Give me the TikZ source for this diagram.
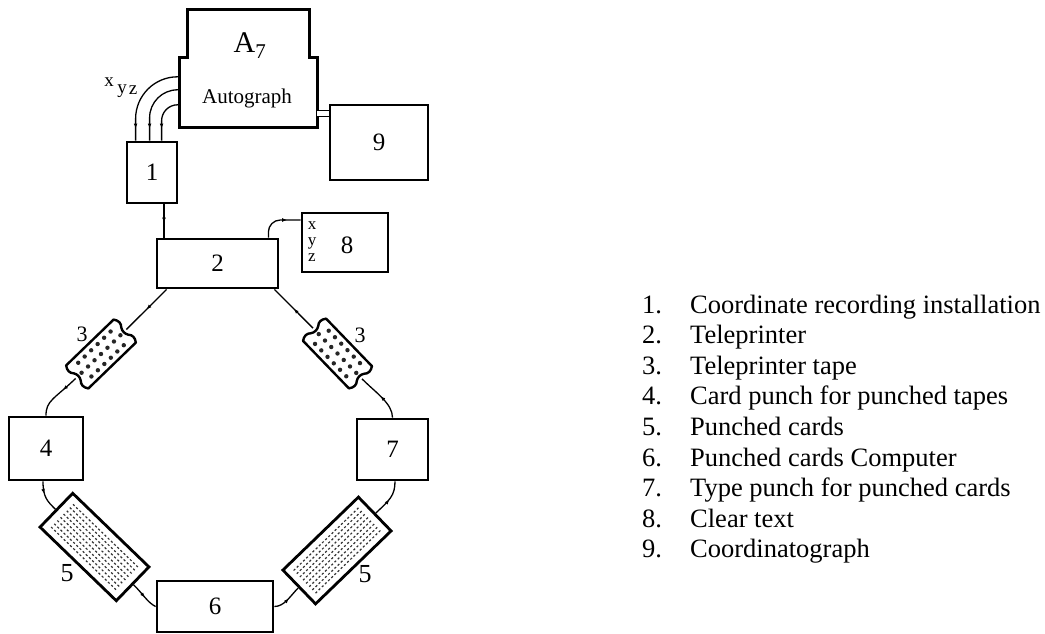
\documentclass[tikz,border=0pt]{standalone}
\usepackage{fontspec}
\setmainfont{Liberation Serif}
\usetikzlibrary{arrows.meta,decorations.markings,calc}
\tikzset{
  box/.style={draw, line width=2.8pt, inner sep=0pt, font=\fontsize{25}{30}\selectfont},
  wire/.style={line width=1.3pt},
  arr/.style={postaction={decorate}, decoration={markings, mark=at position #1 with {\arrow{Latex[length=5pt,width=3.8pt]}}}},
  lab/.style={inner sep=0pt, font=\fontsize{#1}{#1}\selectfont},
  legend/.style={inner sep=0pt, anchor=base west, font=\fontsize{26.5}{30}\selectfont},
  tapeline/.style={line width=2.4pt, line join=round, fill=white},
  cardline/.style={draw, line width=2.8pt, inner sep=0pt, minimum height=47pt},
  holedot/.style={fill=black!85},
  hole/.style={line width=1.2pt, black!80},
  anchorbox/.style={inner sep=0pt, minimum width=70pt, minimum height=32pt},
}
\begin{document}
\begin{tikzpicture}[x=1pt,y=-1pt]
\useasboundingbox (0,0) rectangle (1045,634);

% ---- Autograph A7
\node[minimum width=137pt, minimum height=69pt, inner sep=0pt] (ag) at (248.5,92.5) {};
\draw[line width=2.8pt, line join=miter] (ag.south west) -- (ag.north west) -- ++(8,0) -- ++(0,-48) -- ++(122,0) -- ++(0,48) -- (ag.north east) -- (ag.south east) -- cycle;
\node[lab=30, anchor=base] (a7) at (250,53) {A\textsubscript{7}};
\node[lab=21, anchor=base] (agt) at (247,103) {Autograph};

% ---- boxes
\node[box, minimum width=98pt, minimum height=75pt] (b9) at (379,142.5) {9};
\node[box, minimum width=50pt, minimum height=61pt] (b1) at (152,172.5) {1};
\node[box, minimum width=121pt, minimum height=49pt] (b2) at (217.5,263.5) {2};
\node[box, minimum width=86pt, minimum height=59pt] (b8) at (345,242.5) {};
\node[lab=25] (b8t) at (347,245) {8};
\node[box, minimum width=74pt, minimum height=63pt] (b4) at (46,448.5) {4};
\node[box, minimum width=71pt, minimum height=61pt] (b7) at (392.5,449.5) {7};
\node[box, minimum width=116pt, minimum height=51pt] (b6) at (215,606.5) {6};

% xyz labels
\node[lab=19, anchor=base] (wx) at (109,87) {x};
\node[lab=19, anchor=base] (wy) at (122,93) {y};
\node[lab=19, anchor=base] (wz) at (133,95) {z};
\node[inner sep=0pt, align=center, font=\fontsize{17}{16}\selectfont] (cxyz) at (312,242) {x\\y\\z};

% ---- tapes (3)
\node[anchorbox, rotate=44] (t1) at (101,354) {};
\node[anchorbox, rotate=-46] (t2) at (337.5,353.5) {};
\foreach \t/\r in {t1/44, t2/-46}{
  \begin{scope}[shift={(\t.center)}, rotate=\r]
    \draw[tapeline] (-33,-16) -- (33,-16)
      .. controls (36,-12) and (36,-8) .. (33,-5)
      .. controls (31,-2) and (31,2) .. (33,5)
      .. controls (36,8) and (36,12) .. (33,16)
      -- (-33,16)
      .. controls (-36,12) and (-36,8) .. (-33,5)
      .. controls (-31,2) and (-31,-2) .. (-33,-5)
      .. controls (-36,-8) and (-36,-12) .. (-33,-16) -- cycle;
    \foreach \a in {-27,-18,...,27} \fill[holedot] (\a,0) circle (2.2);
    \foreach \a in {-22.5,-13.5,...,23} {
      \fill[holedot] (\a,-9.5) circle (2.2);
      \fill[holedot] (\a,9.5) circle (2.2);
    }
  \end{scope}
}
\node[lab=22] (l3a) at (82,334) {3};
\node[lab=22] (l3b) at (360,335) {3};

% ---- punched cards (5)
\node[cardline, rotate=-44, minimum width=106pt] (c1) at (94.5,547) {};
\node[cardline, rotate=44, minimum width=105pt] (c2) at (337,550.5) {};
\foreach \c/\r in {c1/-44, c2/44}{
  \begin{scope}[shift={(\c.center)}, rotate=\r]
    \foreach \b in {-15.75,-11.25,...,16}
      \foreach \a in {-44,-39.6,...,44.5}
        \draw[hole] (\a-1.1,\b) -- (\a+1.1,\b);
  \end{scope}
}
\node[lab=26] (l5a) at (67,573.5) {5};
\node[lab=26] (l5b) at (365,574) {5};

% ---- connectors
\draw[wire, rounded corners=42pt, arr=-12pt] ($(ag.north west)+(0,19)$) -| ($(b1.north west)+(10,0)$);
\draw[wire, rounded corners=28pt, arr=-12pt] ($(ag.north west)+(0,32)$) -| ($(b1.north west)+(24,0)$);
\draw[wire, rounded corners=16pt, arr=-12pt] ($(ag.north west)+(0,47)$) -| ($(b1.north west)+(36,0)$);

\draw[line width=1.1pt, double distance=5pt] ($(ag.south east)+(0,-13.5)$) coordinate (dd) -- (dd -| b9.west);

\draw[wire, arr=0.55] ($(b1.south)+(12,0)$) coordinate (p1) -- (p1 |- b2.north);

\draw[wire, rounded corners=12pt, arr=0.7] ($(b2.north east)+(-11,0)$) |- ($(b8.west)+(0,-22.5)$);

\draw[wire, arr=0.5] ($(b2.south west)+(11,0)$) -- (t1.east);
\draw[wire, arr=0.35] (t1.west) .. controls ($(t1.west)+(-22,21)$) and ($(b4.north)+(0,-15)$) .. (b4.north);
\draw[wire, arr=0.4] ($(b4.south)+(-3,0)$) .. controls ($(b4.south)+(-3,16)$) and ($(c1.west)+(-8,-8)$) .. (c1.west);
\draw[wire, arr=0.55] (c1.east) .. controls ($(c1.east)+(10,10)$) and ($(b6.west)+(-8,-4)$) .. (b6.west);

\draw[wire, arr=0.55] (b6.east) .. controls ($(b6.east)+(10,0)$) and ($(c2.west)+(-8,8)$) .. (c2.west);
\draw[wire, arr=0.5] (c2.east) .. controls ($(c2.east)+(14,-13)$) and ($(b7.south)+(2.5,14)$) .. ($(b7.south)+(2.5,0)$);
\draw[wire, arr=0.5] (b7.north) .. controls ($(b7.north)+(0,-14)$) and ($(t2.east)+(14,14)$) .. (t2.east);
\draw[wire, arr=0.5] (t2.west) -- ($(b2.south east)+(-5,0)$);

% ---- legend
\foreach \i/\t in {1/Coordinate recording installation, 2/Teleprinter, 3/Teleprinter tape,
  4/Card punch for punched tapes, 5/Punched cards, 6/Punched cards Computer,
  7/Type punch for punched cards, 8/Clear text, 9/Coordinatograph}{
  \node[legend] (n\i) at (642,{313+30.6*(\i-1)}) {\i.};
  \node[legend] (l\i) at (690,{313+30.6*(\i-1)}) {\t};
}
\end{tikzpicture}
\end{document}
